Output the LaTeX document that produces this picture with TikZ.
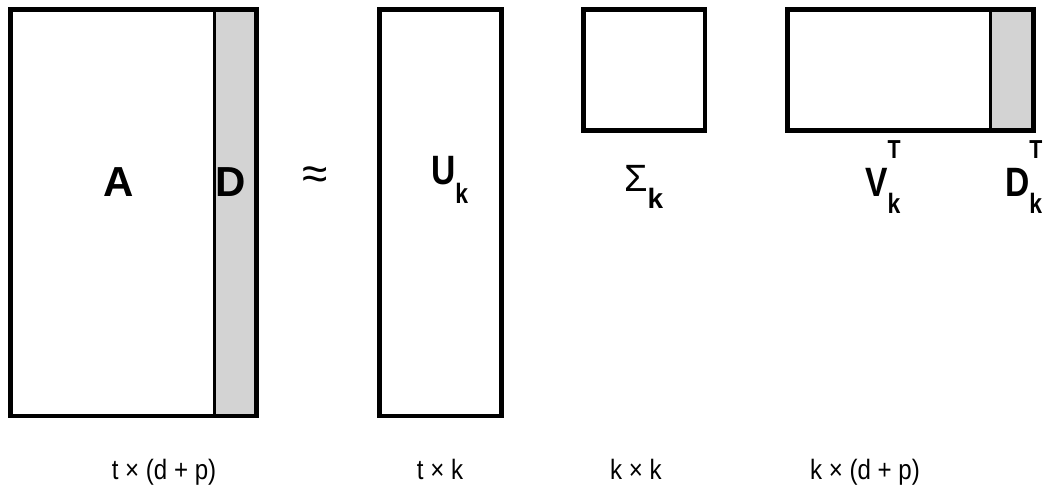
\documentclass[tikz,border=0pt]{standalone}
\usepackage{fontspec}
\setmainfont{Liberation Sans}
\newfontfamily\narrowsans[FakeStretch=0.82]{Liberation Sans}
\newfontfamily\dimsans[FakeStretch=0.86]{Liberation Sans}
\definecolor{stripgray}{RGB}{211,211,211}
\newcommand{\lowk}[1]{\raisebox{-#1pt}{\fontsize{28}{28}\selectfont\bfseries k}}
\newcommand{\hight}[1]{\rlap{\raisebox{#1pt}{\fontsize{26}{26}\selectfont\bfseries T}}}

\begin{document}
\begin{tikzpicture}[x=1pt, y=-1pt,
  matline/.style={line width=4.5pt},
  stripfill/.style={fill=stripgray, draw=none},
  symlabel/.style={font=\fontsize{42}{42}\selectfont\bfseries, inner sep=0pt, anchor=base},
  factlabel/.style={font=\narrowsans\fontsize{41}{41}\selectfont\bfseries, inner sep=0pt, anchor=base west},
  dimlabel/.style={font=\dimsans\fontsize{28}{28}\selectfont, inner sep=0pt, anchor=base}]
 \useasboundingbox (0,0) rectangle (1052,487);

 % A | D
 \fill[stripfill] (214.5,9.5) rectangle (256.5,416);
 \draw[line width=2.5pt] (214.5,9.5) -- (214.5,416);
 \draw[matline] (10.5,9.5) rectangle (256.5,416);

 % U_k, Sigma_k
 \draw[matline] (379.5,9.5) rectangle (501.5,416);
 \draw[matline] (583.5,9.5) rectangle (705,130.5);

 % V_k^T | D_k^T
 \fill[stripfill] (990.5,9.5) rectangle (1033.5,130.5);
 \draw[line width=2.5pt] (990.5,9.5) -- (990.5,130.5);
 \draw[matline] (787.5,9.5) rectangle (1033.5,130.5);

 \node[symlabel] (alab) at (119,196) {A};
 \node[symlabel] (dlab) at (231,196) {D};
 \node[font=\fontsize{46}{46}\selectfont, inner sep=0pt] (approx) at (315.5,178) {≈};
 \node[factlabel] (ulab) at (431,184) {U\lowk{19}};
 \node[font=\fontsize{38}{38}\selectfont, inner sep=0pt, anchor=base west] (slab) at (624,191) {Σ\lowk{17}};
 \node[factlabel] (vlab) at (865,196) {V\hight{38}\lowk{17}};
 \node[factlabel] (dtlab) at (1005,196) {D\hight{38}\lowk{17}};

 \node[dimlabel] (adim) at (164,479) {t × (d + p)};
 \node[dimlabel] (udim) at (440,479) {t × k};
 \node[dimlabel] (sdim) at (636,479) {k × k};
 \node[dimlabel] (vdim) at (865,479) {k × (d + p)};
\end{tikzpicture}
\end{document}
